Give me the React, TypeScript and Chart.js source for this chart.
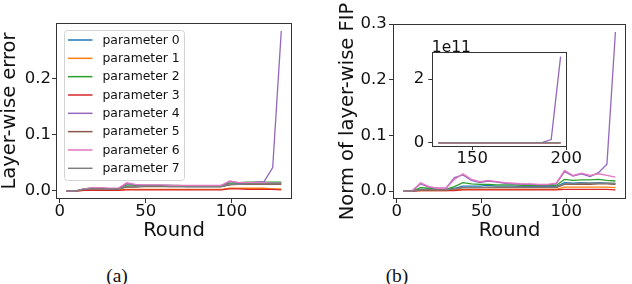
import React, { useEffect, useRef } from "react";
import { Chart, registerables } from "chart.js";
Chart.register(...registerables);

const FONT = "'DejaVu Sans', sans-serif";
const AXIS = "#333333";
const TXT = "#111111";

// ---------- data ----------
const rounds = [4, 9, 14, 19, 24, 29, 34, 39, 44, 49, 54, 59, 64, 69, 74, 79, 84, 89, 94, 99, 104, 109, 114, 119, 124, 129];
const insetRounds = [132, 137, 142, 147, 152, 157, 162, 167, 172, 177, 182, 187, 192, 197];

const paramLabels = ["parameter 0", "parameter 1", "parameter 2", "parameter 3", "parameter 4", "parameter 5", "parameter 6", "parameter 7"];
const paramColors = ["#1f77b4", "#ff7f0e", "#2ca02c", "#d62728", "#9467bd", "#8c564b", "#e377c2", "#7f7f7f"];

// (a) Layer-wise error
const errParam0 = [-0.001, -0.001, 0.002, 0.003, 0.003, 0.003, 0.003, 0.007, 0.007, 0.008, 0.008, 0.008, 0.008, 0.008, 0.007, 0.007, 0.007, 0.007, 0.007, 0.011, 0.012, 0.012, 0.013, 0.013, 0.013, 0.013];
const errParam1 = [-0.001, -0.001, 0.0, 0.001, 0.001, 0.001, 0.001, 0.002, 0.002, 0.002, 0.002, 0.002, 0.002, 0.002, 0.002, 0.002, 0.002, 0.002, 0.002, 0.004, 0.004, 0.004, 0.004, 0.004, 0.003, 0.003];
const errParam2 = [-0.001, -0.001, 0.003, 0.004, 0.004, 0.003, 0.003, 0.01, 0.009, 0.009, 0.009, 0.009, 0.009, 0.009, 0.008, 0.008, 0.008, 0.008, 0.009, 0.013, 0.014, 0.015, 0.015, 0.015, 0.015, 0.015];
const errParam3 = [-0.001, -0.001, 0.0, 0.0, 0.0, 0.0, 0.0, 0.001, 0.001, 0.001, 0.001, 0.001, 0.001, 0.001, 0.001, 0.001, 0.001, 0.001, 0.001, 0.003, 0.003, 0.002, 0.002, 0.002, 0.002, 0.001];
const errParam4 = [-0.001, -0.001, 0.003, 0.004, 0.004, 0.003, 0.003, 0.012, 0.01, 0.009, 0.009, 0.009, 0.009, 0.008, 0.008, 0.008, 0.008, 0.008, 0.008, 0.016, 0.014, 0.013, 0.015, 0.016, 0.041, 0.2858];
const errParam5 = [-0.001, -0.001, 0.002, 0.003, 0.003, 0.003, 0.003, 0.006, 0.006, 0.007, 0.007, 0.007, 0.007, 0.007, 0.007, 0.007, 0.007, 0.007, 0.007, 0.01, 0.011, 0.011, 0.011, 0.011, 0.011, 0.011];
const errParam6 = [-0.001, -0.001, 0.003, 0.005, 0.005, 0.004, 0.004, 0.014, 0.011, 0.01, 0.01, 0.01, 0.009, 0.009, 0.009, 0.009, 0.009, 0.009, 0.009, 0.017, 0.014, 0.014, 0.014, 0.014, 0.013, 0.013];
const errParam7 = [-0.001, -0.001, 0.002, 0.003, 0.003, 0.003, 0.003, 0.007, 0.007, 0.008, 0.008, 0.008, 0.007, 0.007, 0.007, 0.007, 0.007, 0.007, 0.007, 0.011, 0.011, 0.012, 0.012, 0.012, 0.012, 0.012];

// (b) Norm of layer-wise FIP
const fipParam0 = [0, 0, 0.003, 0.003, 0.002, 0.002, 0.005, 0.009, 0.009, 0.009, 0.01, 0.009, 0.009, 0.009, 0.008, 0.008, 0.008, 0.008, 0.008, 0.015, 0.014, 0.015, 0.014, 0.015, 0.014, 0.013];
const fipParam1 = [0, 0, 0.001, 0.001, 0.001, 0.001, 0.002, 0.003, 0.003, 0.003, 0.003, 0.003, 0.003, 0.003, 0.003, 0.003, 0.003, 0.003, 0.003, 0.007, 0.007, 0.007, 0.007, 0.007, 0.007, 0.006];
const fipParam2 = [0, 0, 0.006, 0.005, 0.003, 0.003, 0.008, 0.015, 0.013, 0.012, 0.012, 0.011, 0.011, 0.011, 0.01, 0.01, 0.01, 0.01, 0.01, 0.021, 0.019, 0.02, 0.02, 0.021, 0.019, 0.018];
const fipParam3 = [0, 0, 0.001, 0.001, 0.001, 0.001, 0.001, 0.002, 0.002, 0.002, 0.002, 0.002, 0.002, 0.002, 0.002, 0.002, 0.002, 0.002, 0.002, 0.003, 0.003, 0.003, 0.003, 0.003, 0.003, 0.002];
const fipParam4 = [0, 0, 0.013, 0.007, 0.005, 0.005, 0.024, 0.029, 0.019, 0.015, 0.018, 0.016, 0.014, 0.013, 0.012, 0.012, 0.011, 0.011, 0.013, 0.035, 0.027, 0.031, 0.026, 0.033, 0.048, 0.2858];
const fipParam5 = [0, 0, 0.002, 0.002, 0.002, 0.002, 0.004, 0.006, 0.006, 0.006, 0.006, 0.006, 0.006, 0.006, 0.006, 0.006, 0.006, 0.006, 0.006, 0.012, 0.012, 0.012, 0.012, 0.013, 0.013, 0.012];
const fipParam6 = [0, 0, 0.0148, 0.008, 0.005, 0.005, 0.021, 0.031, 0.021, 0.017, 0.019, 0.017, 0.015, 0.014, 0.013, 0.013, 0.012, 0.012, 0.014, 0.037, 0.028, 0.032, 0.028, 0.031, 0.028, 0.025];
const fipParam7 = [0, 0, 0.002, 0.002, 0.002, 0.002, 0.004, 0.006, 0.006, 0.006, 0.007, 0.007, 0.007, 0.007, 0.007, 0.007, 0.007, 0.007, 0.007, 0.013, 0.013, 0.014, 0.014, 0.014, 0.014, 0.014];

// inset (units of 1e11)
const insetParam4 = [0, 0, 0, 0, 0, 0, 0, 0, 0, 0, 0, 0, 0.1, 2.71];
const insetOther = [0, 0, 0, 0, 0, 0, 0, 0, 0, 0, 0, 0, 0, 0];

const mainTicksX = [0, 50, 100];
const errTicksY = [0, 0.1, 0.2];
const fipTicksY = [0, 0.1, 0.2, 0.3];
const insetTicksX = [150, 200];
const insetTicksY = [0, 2];

const errSeries = [errParam0, errParam1, errParam2, errParam3, errParam4, errParam5, errParam6, errParam7];
const fipSeries = [fipParam0, fipParam1, fipParam2, fipParam3, fipParam4, fipParam5, fipParam6, fipParam7];
const insetSeries = [insetOther, insetOther, insetOther, insetOther, insetParam4, insetOther, insetOther, insetOther];

// ---------- helpers ----------
function makeDatasets(xs: number[], series: number[][]) {
  return series.map((ys, i) => ({
    label: paramLabels[i],
    data: xs.map((x, j) => ({ x, y: ys[j] })),
    borderColor: paramColors[i],
    backgroundColor: paramColors[i],
    borderWidth: 1.3,
    pointRadius: 0,
    tension: 0,
    fill: false,
    order: 8 - i,
  }));
}

function axisX(o: any) {
  return {
    type: "linear",
    position: "bottom",
    min: o.min,
    max: o.max,
    afterBuildTicks: (s: any) => {
      s.ticks = o.ticks.map((v: number) => ({ value: v }));
    },
    afterFit: (s: any) => {
      s.height = o.height;
      s.paddingLeft = 0;
      s.paddingRight = 0;
    },
    grid: { display: true, drawOnChartArea: false, drawTicks: true, tickLength: o.tickLen, color: AXIS, tickColor: AXIS, tickWidth: 1 },
    border: { display: false },
    ticks: {
      autoSkip: false,
      maxRotation: 0,
      minRotation: 0,
      padding: o.pad,
      color: TXT,
      font: { family: FONT, size: 16.5, lineHeight: 1 },
      callback: (v: any) => String(v),
    },
    title: o.title
      ? { display: true, text: o.title, color: TXT, padding: 0, font: { family: FONT, size: 19.5, lineHeight: 1 } }
      : { display: false },
  };
}

function axisY(o: any) {
  return {
    type: "linear",
    position: "left",
    min: o.min,
    max: o.max,
    afterBuildTicks: (s: any) => {
      s.ticks = o.ticks.map((v: number) => ({ value: v }));
    },
    afterFit: (s: any) => {
      s.width = o.width;
      s.paddingTop = 0;
      s.paddingBottom = 0;
    },
    grid: { display: true, drawOnChartArea: false, drawTicks: true, tickLength: o.tickLen, color: AXIS, tickColor: AXIS, tickWidth: 1 },
    border: { display: false },
    ticks: {
      autoSkip: false,
      padding: o.pad,
      color: TXT,
      font: { family: FONT, size: 16.5, lineHeight: 1 },
      callback: o.fmt,
    },
    title: o.title
      ? { display: true, text: o.title, color: TXT, padding: 0, font: { family: FONT, size: 19.5, lineHeight: 1 } }
      : { display: false },
  };
}

const framePlugin = {
  id: "frameBox",
  beforeDatasetsDraw(chart: any) {
    const a = chart.chartArea;
    const ctx = chart.ctx;
    ctx.save();
    ctx.fillStyle = "#ffffff";
    ctx.fillRect(a.left, a.top, a.right - a.left, a.bottom - a.top);
    ctx.restore();
  },
  afterDraw(chart: any) {
    const a = chart.chartArea;
    const ctx = chart.ctx;
    ctx.save();
    ctx.strokeStyle = AXIS;
    ctx.lineWidth = 1;
    const l = Math.round(a.left) + 0.5;
    const t = Math.round(a.top) + 0.5;
    const r = Math.round(a.right) - 0.5;
    const b = Math.round(a.bottom) - 0.5;
    ctx.strokeRect(l, t, r - l, b - t);
    ctx.restore();
  },
};

const legendPlugin = {
  id: "boxLegend",
  afterDraw(chart: any) {
    const a = chart.chartArea;
    const ctx = chart.ctx;
    const x0 = a.left + 8;
    const y0 = a.top + 7;
    const w = 120;
    const h = 150;
    ctx.save();
    ctx.beginPath();
    if (ctx.roundRect) ctx.roundRect(x0 + 0.5, y0 + 0.5, w, h, 3);
    else ctx.rect(x0 + 0.5, y0 + 0.5, w, h);
    ctx.fillStyle = "rgba(255,255,255,0.8)";
    ctx.fill();
    ctx.strokeStyle = "#d4d4d4";
    ctx.lineWidth = 1;
    ctx.stroke();
    ctx.font = `12.4px ${FONT}`;
    ctx.textBaseline = "middle";
    ctx.textAlign = "left";
    chart.data.datasets.forEach((ds: any, i: number) => {
      const y = y0 + 10 + i * 18.33;
      ctx.strokeStyle = ds.borderColor;
      ctx.lineWidth = 1.5;
      ctx.beginPath();
      ctx.moveTo(x0 + 4, y);
      ctx.lineTo(x0 + 28.5, y);
      ctx.stroke();
      ctx.fillStyle = TXT;
      ctx.fillText(ds.label, x0 + 38.5, y + 0.5);
    });
    ctx.restore();
  },
};

const exponentPlugin = {
  id: "exponentLabel",
  afterDraw(chart: any) {
    const a = chart.chartArea;
    const ctx = chart.ctx;
    ctx.save();
    ctx.font = `15.5px ${FONT}`;
    ctx.fillStyle = TXT;
    ctx.textBaseline = "alphabetic";
    ctx.textAlign = "left";
    ctx.fillText("1e11", a.left - 0.5, a.top - 0.8);
    ctx.restore();
  },
};

function ChartCanvas(props: { left: number; top: number; width: number; height: number; build: () => any }) {
  const ref = useRef<HTMLCanvasElement>(null);
  useEffect(() => {
    const chart = new Chart(ref.current as HTMLCanvasElement, props.build());
    return () => chart.destroy();
  }, []);
  return (
    <div style={{ position: "absolute", left: props.left, top: props.top, width: props.width, height: props.height }}>
      <canvas ref={ref} width={props.width} height={props.height} style={{ width: props.width, height: props.height, display: "block" }} />
    </div>
  );
}

const baseOptions = {
  responsive: false,
  maintainAspectRatio: false,
  animation: false,
  events: [],
  plugins: { legend: { display: false }, tooltip: { enabled: false }, title: { display: false } },
};

function buildError() {
  return {
    type: "line",
    data: { datasets: makeDatasets(rounds, errSeries) },
    options: {
      ...baseOptions,
      layout: { padding: { left: 0, top: 23, right: 8, bottom: 0 } },
      scales: {
        x: axisX({ min: -2.25, max: 135.25, ticks: mainTicksX, title: "Round", height: 42, tickLen: 4, pad: 0 }),
        y: axisY({ min: -0.0153, max: 0.3001, ticks: errTicksY, title: "Layer-wise error", width: 56, tickLen: 4, pad: 1, fmt: (v: any) => Number(v).toFixed(1) }),
      },
    },
    plugins: [framePlugin, legendPlugin],
  };
}

function buildFip() {
  return {
    type: "line",
    data: { datasets: makeDatasets(rounds, fipSeries) },
    options: {
      ...baseOptions,
      layout: { padding: { left: 18.25, top: 24, right: 6, bottom: 0 } },
      scales: {
        x: axisX({ min: -2.25, max: 135.25, ticks: mainTicksX, title: "Round", height: 42, tickLen: 4, pad: 0 }),
        y: axisY({ min: -0.0143, max: 0.3001, ticks: fipTicksY, title: "Norm of layer-wise FIP", width: 54.75, tickLen: 4, pad: 2.3, fmt: (v: any) => Number(v).toFixed(1) }),
      },
    },
    plugins: [framePlugin],
  };
}

function buildInset() {
  return {
    type: "line",
    data: { datasets: makeDatasets(insetRounds, insetSeries) },
    options: {
      ...baseOptions,
      layout: { padding: { left: 0, top: 14.3, right: 18.3, bottom: 0 } },
      scales: {
        x: axisX({ min: 128.75, max: 200.25, ticks: insetTicksX, title: "", height: 23, tickLen: 3, pad: 0 }),
        y: axisY({ min: -0.1355, max: 2.8455, ticks: insetTicksY, title: "", width: 27.3, tickLen: 4, pad: 4, fmt: (v: any) => String(v) }),
      },
    },
    plugins: [framePlugin, exponentPlugin],
  };
}

const captionStyle: React.CSSProperties = {
  position: "absolute",
  top: 265.5,
  width: 100,
  textAlign: "center",
  fontFamily: "'Liberation Serif', 'Times New Roman', serif",
  fontSize: 19.5,
  lineHeight: "19.5px",
  color: "#111",
};

export default function App() {
  return (
    <div style={{ position: "absolute", left: 0, top: 0, width: 632, height: 284, background: "#ffffff", overflow: "hidden" }}>
      <ChartCanvas left={0} top={0} width={300} height={241} build={buildError} />
      <ChartCanvas left={320} top={0} width={312} height={241} build={buildFip} />
      <ChartCanvas left={405} top={38} width={180} height={132} build={buildInset} />
      <div style={{ ...captionStyle, left: 67 }}>(a)</div>
      <div style={{ ...captionStyle, left: 347 }}>(b)</div>
    </div>
  );
}
